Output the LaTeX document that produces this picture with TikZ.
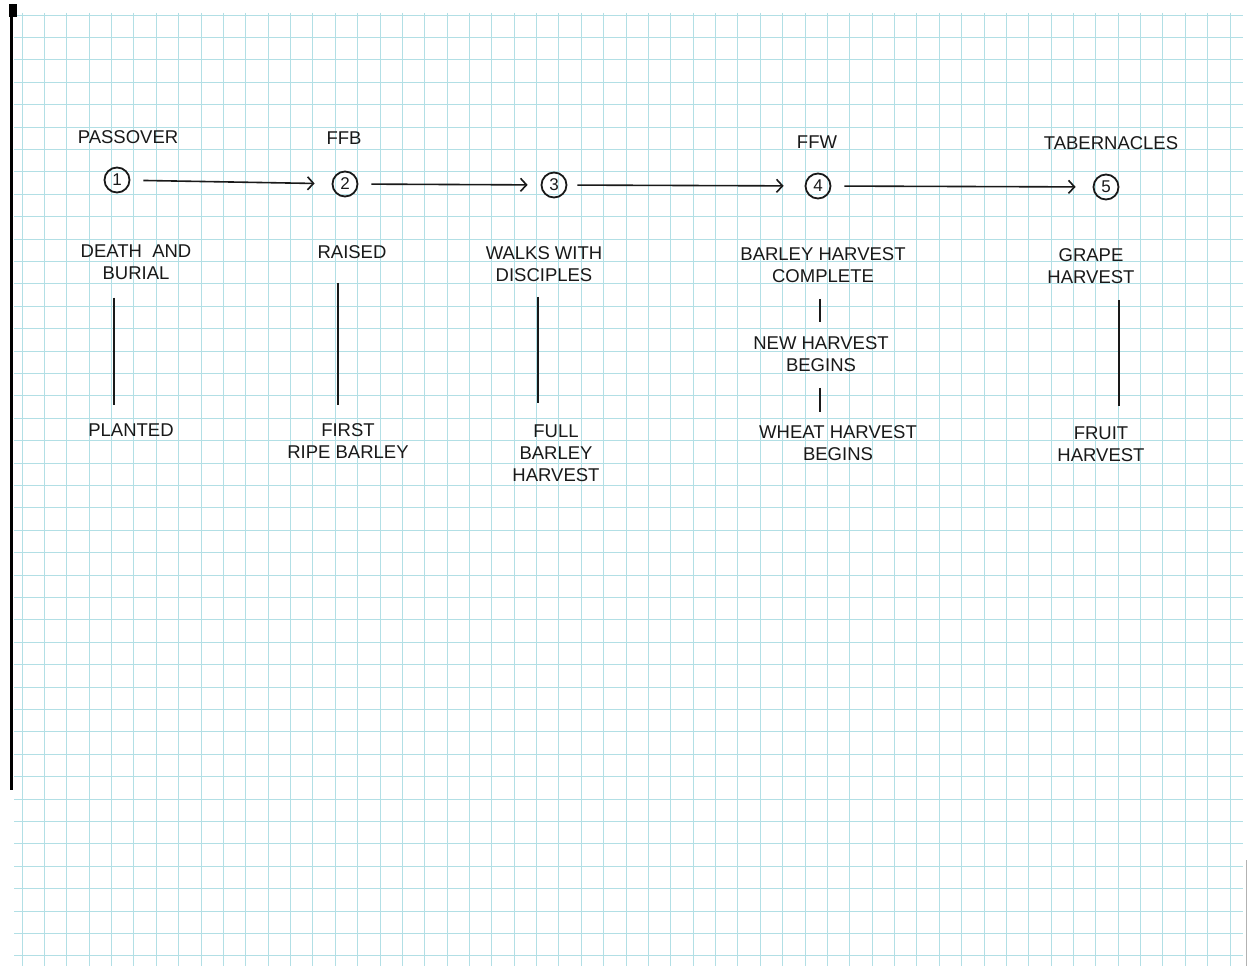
\documentclass[tikz,border=0pt]{standalone}
\usepackage{fontspec}
\setmainfont{Liberation Sans}
\usetikzlibrary{arrows.meta, positioning}
\definecolor{gridcyan}{RGB}{178,223,229}
\definecolor{inkblack}{RGB}{25,25,25}

\begin{document}
\begin{tikzpicture}[x=1pt, y=-1pt,
    note/.style={font=\fontsize{18.5}{22}\selectfont, inner sep=0pt, align=center, text=inkblack},
    day/.style={circle, draw=inkblack, line width=1.8pt, minimum size=25pt, inner sep=0pt, text=inkblack, font=\fontsize{17}{17}\selectfont},
    arrow/.style={-{Straight Barb[length=6pt, width=13pt]}, line width=1.6pt, inkblack, shorten <=13pt, shorten >=17pt},
    stem/.style={line width=2.4pt, inkblack},
    gridline/.style={gridcyan, line width=0.8pt}
]
    % Paper
    \fill[white] (0,0) rectangle (1252,966);
    \useasboundingbox (0,0) rectangle (1252,966);
    \foreach \k in {0,...,54}
        \draw[gridline] ({22+22.37*\k},13) -- ({22+22.37*\k},966);
    \foreach \k in {0,...,42}
        \draw[gridline] (14,{15+22.4*\k}) -- (1243,{15+22.4*\k});
    \fill[black] (9,4) rectangle (17,17);
    \draw[black, line width=3pt] (11.5,4) -- (11.5,790);
    \draw[gray!60, line width=1pt] (1246,860) -- (1246,966);

    % Feasts
    \node[note] (passover) at (128,137) {PASSOVER};
    \node[note] (ffb)      at (344,138) {FFB};
    \node[note] (ffw)      at (817,142) {FFW};
    \node[note] (tab)      at (1111,143) {TABERNACLES};

    % Days
    \node[day] (d1) at (117,180) {1};
    \node[day] (d2) at (345,184) {2};
    \node[day] (d3) at (554,185) {3};
    \node[day] (d4) at (818,186) {4};
    \node[day] (d5) at (1106,187) {5};

    % Timeline arrows
    \draw[arrow] (d1) -- (d2);
    \draw[arrow, shorten >=13pt] (d2) -- (d3);
    \draw[arrow, shorten <=10pt, shorten >=21pt] (d3) -- (d4);
    \draw[arrow] (d4) -- (d5);

    % Upper notes
    \node[note] (u1) at (136,262) {DEATH \ AND\\BURIAL};
    \node[note] (u2) at (352,252) {RAISED};
    \node[note] (u3) at (544,264) {WALKS WITH\\DISCIPLES};
    \node[note] (u4) at (823,265) {BARLEY HARVEST\\COMPLETE};
    \node[note] (u5) at (1091,266) {GRAPE\\HARVEST};
    \node[note] (m4) at (821,354) {NEW HARVEST\\BEGINS};

    % Lower notes
    \node[note] (b1) at (131,430) {PLANTED};
    \node[note] (b2) at (348,441) {FIRST\\RIPE BARLEY};
    \node[note] (b3) at (556,453) {FULL\\BARLEY\\HARVEST};
    \node[note] (b4) at (838,443) {WHEAT HARVEST\\BEGINS};
    \node[note] (b5) at (1101,444) {FRUIT\\HARVEST};

    % Stems
    \draw[stem, shorten <=18pt, shorten >=18pt] (u1.south -| 114,0) -- (b1.north -| 114,0);
    \draw[stem, shorten <=24pt, shorten >=18pt] (u2.south -| 338,0) -- (b2.north -| 338,0);
    \draw[stem, shorten <=15pt, shorten >=21pt] (u3.south -| 538,0) -- (b3.north -| 538,0);
    \draw[stem, shorten <=16pt, shorten >=14pt] (u4.south -| 820,0) -- (m4.north -| 820,0);
    \draw[stem, shorten <=16pt, shorten >=13pt] (m4.south -| 820,0) -- (b4.north -| 820,0);
    \draw[stem, shorten <=16pt, shorten >=20pt] (u5.south -| 1119,0) -- (b5.north -| 1119,0);
\end{tikzpicture}
\end{document}
